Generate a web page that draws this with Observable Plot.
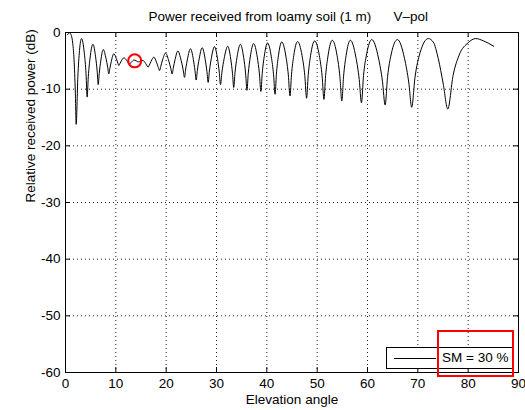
<!DOCTYPE html>
<html>
<head>
<meta charset="utf-8">
<script src="https://cdn.jsdelivr.net/npm/d3@7"></script>
<script src="https://cdn.jsdelivr.net/npm/@observablehq/plot@0.6"></script>
<style>
  html, body { margin: 0; padding: 0; background: #fff; }
  #wrap { position: relative; width: 525px; height: 410px; font-family: "Liberation Sans", Arial, sans-serif; }
  #legend { position: absolute; left: 386px; top: 347px; width: 127px; height: 22px; box-sizing: border-box;
            border: 1px solid #000; background: #fff; font-size: 13.5px; color: #000; }
  #legend .swatch { position: absolute; left: 7px; top: 10px; width: 42px; height: 0; border-top: 1px solid #000; }
  #legend .lab { position: absolute; left: 55px; top: 0; line-height: 20px; white-space: nowrap; }
  #hilite { position: absolute; left: 437px; top: 330px; width: 77px; height: 47px; box-sizing: border-box;
            border: 2px solid #ff0000; pointer-events: none; }
</style>
</head>
<body>
<div id="wrap"></div>
<script>
// ---- data ----
const angle = [
  0.4, 0.8, 1.15, 1.45, 1.7, 1.95, 2.12, 2.45, 2.78, 3.18,
  3.74, 4.08, 4.3, 4.53, 4.88, 5.45,
  5.98, 6.29, 6.5, 6.7, 7.0, 7.5,
  8.05, 8.38, 8.6, 8.8, 9.1, 9.6,
  10.1, 10.4, 10.6, 10.8, 11.1, 11.6,
  12.13, 12.44, 12.65, 13.13, 13.6, 14.05, 14.5, 14.95, 15.4,
  15.91, 16.22, 16.42, 16.65, 16.99, 17.55,
  18.12, 18.45, 18.68, 18.92, 19.28, 19.87,
  20.53, 20.93, 21.19, 21.42, 21.76, 22.32,
  22.98, 23.38, 23.64, 23.88, 24.24, 24.83,
  25.4, 25.73, 25.96, 26.2, 26.56, 27.15,
  27.75, 28.1, 28.34, 28.59, 28.97, 29.6,
  30.2, 30.55, 30.79, 31.08, 31.52, 32.24,
  32.83, 33.18, 33.42, 33.68, 34.08, 34.74,
  35.4, 35.79, 36.05, 36.31, 36.71, 37.37,
  38.1, 38.53, 38.82, 39.08, 39.48, 40.13,
  40.89, 41.34, 41.64, 41.9, 42.3, 42.96,
  43.78, 44.27, 44.6, 44.9, 45.35, 46.1,
  47.0, 47.54, 47.9, 48.22, 48.7, 49.5,
  50.43, 50.98, 51.35, 51.68, 52.18, 53.0,
  53.95, 54.52, 54.9, 55.24, 55.75, 56.6,
  57.7, 58.36, 58.8, 59.21, 59.83, 60.85,
  62.18, 62.97, 63.5, 63.99, 64.72, 65.94,
  67.36, 68.21, 68.78, 69.44, 70.43, 72.08,
  73.07, 74.06, 75.05, 75.95, 77.0, 78.2, 80.0, 81.5,
  83.1, 85.1
];
const power = [
  -0.4, -0.05, -0.5, -2.0, -4.8, -10.5, -16.2, -7.9, -3.2, -1.07,
  -3.65, -7.3, -11.4, -7.8, -4.5, -2.08,
  -4.3, -6.8, -9.2, -7.25, -5.05, -3.0,
  -4.6, -6.1, -7.3, -6.4, -5.1, -3.75,
  -4.6, -5.4, -5.83, -5.5, -5.0, -4.46,
  -4.9, -5.35, -5.6, -5.2, -4.85, -5.0, -5.2, -5.05, -4.94,
  -5.45, -5.9, -6.13, -5.75, -5.1, -4.35,
  -5.35, -6.2, -6.73, -6.0, -4.85, -3.63,
  -5.05, -6.4, -7.32, -6.25, -4.8, -3.27,
  -4.95, -6.6, -7.92, -6.45, -4.65, -2.86,
  -4.75, -6.75, -8.39, -6.65, -4.65, -2.68,
  -4.72, -6.9, -8.81, -6.8, -4.55, -2.5,
  -4.64, -7.0, -9.2, -7.0, -4.6, -2.44,
  -4.68, -7.25, -9.7, -7.05, -4.37, -2.08,
  -4.43, -7.3, -10.2, -7.23, -4.32, -1.96,
  -4.35, -7.32, -10.4, -7.26, -4.25, -1.85,
  -4.29, -7.47, -10.9, -7.36, -4.13, -1.67,
  -4.15, -7.49, -11.2, -7.45, -4.08, -1.6,
  -4.1, -7.6, -11.6, -7.56, -4.02, -1.49,
  -4.07, -7.68, -11.8, -7.63, -3.98, -1.37,
  -4.05, -7.81, -12.1, -7.81, -4.05, -1.37,
  -4.4, -8.3, -12.4, -7.6, -3.8, -1.25,
  -4.5, -8.6, -12.8, -7.8, -3.8, -1.25,
  -4.6, -8.9, -13.2, -7.9, -3.6, -1.07,
  -1.7, -4.6, -9.1, -13.5, -7.6, -4.0, -1.8, -1.07,
  -1.5, -2.44
];
const xTicks = [0, 10, 20, 30, 40, 50, 60, 70, 80, 90];
const yTicks = [0, -10, -20, -30, -40, -50, -60];
const circleAngle = [13.75];
const circlePower = [-5.0];
const titleMain = "Power received from loamy soil (1 m)";
const titlePol = "V\u2013pol";
const xLabel = "Elevation angle";
const yLabel = "Relative received power (dB)";
const legendLabel = "SM = 30 %";

// ---- layout ----
const W = 525, H = 410, mL = 65, mR = 7, mT = 32, mB = 38;
const iw = W - mL - mR, ih = H - mT - mB, tick = 5;
const FS = 13.5;

const data = angle.map((a, i) => ({angle: a, power: power[i]}));
const circ = circleAngle.map((a, i) => ({angle: a, power: circlePower[i]}));
const grid = {stroke: "#000", strokeWidth: 1, strokeOpacity: 0.85, strokeDasharray: "1,3"};

const chart = Plot.plot({
  width: W, height: H,
  marginLeft: mL, marginRight: mR, marginTop: mT, marginBottom: mB,
  style: {fontFamily: "'Liberation Sans', Arial, sans-serif", fontSize: FS + "px", background: "#fff", color: "#000"},
  x: {domain: [0, 90]},
  y: {domain: [-60, 0]},
  marks: [
    Plot.ruleX(xTicks.slice(1, -1), grid),
    Plot.ruleY(yTicks.slice(1, -1), grid),
    Plot.line(data, {x: "angle", y: "power", stroke: "#000", strokeWidth: 1, curve: "monotone-x"}),
    Plot.dot(circ, {x: "angle", y: "power", r: 6.5, stroke: "#ff0000", strokeWidth: 2, fill: "none"}),
    Plot.ruleX(xTicks, {stroke: "#000", insetTop: ih - tick}),
    Plot.ruleX(xTicks, {stroke: "#000", insetBottom: ih - tick}),
    Plot.ruleY(yTicks, {stroke: "#000", insetRight: iw - tick}),
    Plot.ruleY(yTicks, {stroke: "#000", insetLeft: iw - tick}),
    Plot.frame({stroke: "#000", strokeWidth: 1}),
    Plot.axisX(xTicks, {tickSize: 0, tickPadding: 6, label: null, fontSize: FS, tickFormat: d => String(d)}),
    Plot.axisY(yTicks, {tickSize: 0, tickPadding: 5, label: null, fontSize: FS, tickFormat: d => String(d)}),
    Plot.text([titleMain], {frameAnchor: "top-left", textAnchor: "start", lineAnchor: "middle", dx: 83, dy: -16, fontSize: FS}),
    Plot.text([titlePol], {frameAnchor: "top-left", textAnchor: "start", lineAnchor: "middle", dx: 328, dy: -16, fontSize: FS}),
    Plot.text([xLabel], {frameAnchor: "bottom", lineAnchor: "middle", dy: 27, fontSize: FS}),
    Plot.text([yLabel], {frameAnchor: "left", lineAnchor: "middle", rotate: -90, dx: -35, fontSize: FS})
  ]
});

const wrap = document.getElementById("wrap");
wrap.appendChild(chart);

const legend = document.createElement("div");
legend.id = "legend";
legend.innerHTML = '<div class="swatch"></div><div class="lab"></div>';
legend.querySelector(".lab").textContent = legendLabel;
wrap.appendChild(legend);

const hl = document.createElement("div");
hl.id = "hilite";
wrap.appendChild(hl);
</script>
</body>
</html>
